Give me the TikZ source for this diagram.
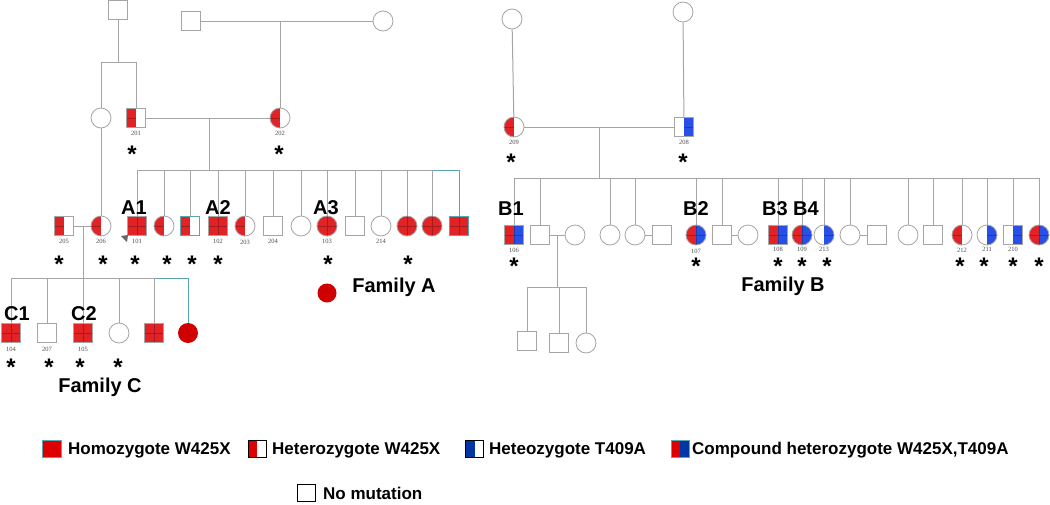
\documentclass[tikz,border=0pt]{standalone}
\usepackage{fontspec}
\setmainfont{Liberation Sans}
\newfontfamily\idfont{Liberation Serif}
\usetikzlibrary{calc}

\definecolor{pred}{RGB}{226,35,38}
\definecolor{pdeep}{RGB}{208,0,0}
\definecolor{pblue}{RGB}{40,80,230}
\definecolor{lred}{RGB}{222,0,0}
\definecolor{lblue}{RGB}{0,55,165}
\definecolor{pgray}{RGB}{165,165,165}
\definecolor{pteal}{RGB}{90,165,175}

\newcommand\lhalf[1]{\fill[#1] (path picture bounding box.south west) rectangle (path picture bounding box.north);}
\newcommand\rhalf[1]{\fill[#1] (path picture bounding box.south) rectangle (path picture bounding box.north east);}
\newcommand\llines{\draw[black, opacity=.25, line width=.3pt] (path picture bounding box.west) -- (path picture bounding box.center);}
\newcommand\rlines{\draw[black, opacity=.25, line width=.3pt] (path picture bounding box.center) -- (path picture bounding box.east);}
\newcommand\qlines{\draw[black, opacity=.25, line width=.3pt] (path picture bounding box.north) -- (path picture bounding box.south) (path picture bounding box.west) -- (path picture bounding box.east);}

\begin{document}
\begin{tikzpicture}[x=1pt, y=-1pt,
	every node/.style = {inner sep=0pt},
	pline/.style = {draw=pgray, line width=1pt},
	tline/.style = {draw=pteal, line width=1pt},
	male/.style = {rectangle, draw=pgray, line width=.8pt, minimum size=19pt, fill=white},
	female/.style = {circle, draw=pgray, line width=.8pt, minimum size=20pt, fill=white},
	homo/.style = {fill=pred, path picture={\qlines}},
	hetw/.style = {path picture={\lhalf{pred}\llines}},
	hett/.style = {path picture={\rhalf{pblue}\rlines}},
	comp/.style = {path picture={\lhalf{pred}\rhalf{pblue}\qlines}},
	pid/.style = {font=\idfont\fontsize{6.5}{7}\selectfont, text=black!70},
	lab/.style = {font=\bfseries\fontsize{20}{20}\selectfont, anchor=base},
	fam/.style = {font=\bfseries\fontsize{20}{20}\selectfont, anchor=base},
	aster/.style = {font=\bfseries\fontsize{24}{24}\selectfont, text height=17.8pt, text depth=-9.6pt, yshift=-4pt},
	legtext/.style = {font=\bfseries\fontsize{17}{17}\selectfont, anchor=base west},
	legbox/.style = {rectangle, draw=black, line width=.6pt, minimum width=18pt, minimum height=17pt}
	]
	\useasboundingbox (0,0) rectangle (1050,504);

	\node[male] (gA0) at (118,10) {};
	\node[male] (gA1) at (191,21) {};
	\node[female] (gA2) at (383,21) {};
	\node[female] (m0) at (101,118) {};
	\node[male, hetw] (n201) at (136,118) {};
	\node[female, hetw] (n202) at (280,118) {};

	\node[male, hetw] (n205) at (64,226) {};
	\node[female, hetw] (n206) at (101,226) {};
	\node[male, homo] (n101) at (137,226) {};
	\node[female, hetw] (a164) at (164,226) {};
	\node[male, hetw, draw=pteal] (a190) at (190,226) {};
	\node[male, homo] (n102) at (218,226) {};
	\node[female, hetw] (n203) at (245,226) {};
	\node[male] (n204) at (273,226) {};
	\node[female] (a301) at (301,226) {};
	\node[female, homo] (n103) at (327,226) {};
	\node[male] (a355) at (355,226) {};
	\node[female] (n214) at (381,226) {};
	\node[female, homo] (a407) at (407,226) {};
	\node[female, homo] (a432) at (432,226) {};
	\node[male, homo, draw=pteal] (a459) at (459,226) {};

	\node[male, homo] (n104) at (11,333) {};
	\node[male] (n207) at (47,333) {};
	\node[male, homo] (n105) at (83,333) {};
	\node[female] (c119) at (119,333) {};
	\node[male, homo] (c154) at (154,333) {};
	\node[female, fill=pdeep, draw=none] (c188) at (188,333) {};

	\coordinate (splitA) at (118,62);
	\coordinate (sibA) at (209,170);
	\coordinate (sibC) at (83,278);
	\draw[pline] (gA0) -- (gA0 |- splitA) (m0 |- splitA) -- (n201 |- splitA);
	\draw[pline] (m0 |- splitA) -- (m0);
	\draw[pline] (n201 |- splitA) -- (n201);
	\draw[pline] (gA1) -- (gA2);
	\draw[pline] (n202 |- gA1) -- (n202);
	\draw[pline] (n201) -- (n202);
	\draw[pline] (m0) -- (n206);
	\draw[pline] (sibA |- n201) -- (sibA);
	\draw[pline] (n101 |- sibA) -- (a432 |- sibA);
	\draw[tline] (a432 |- sibA) -| (a459);
	\foreach \k in {n101,a164,a190,n102,n203,n204,a301,n103,a355,n214,a407,a432}
		\draw[pline] (\k |- sibA) -- (\k);
	\draw[pline] (n205) -- (n206);
	\draw[pline] (sibC |- n205) -- (sibC);
	\draw[pline] (n104 |- sibC) -- (c154 |- sibC);
	\draw[tline] (c154 |- sibC) -| (c188);
	\foreach \k in {n104,n207,n105,c119,c154}
		\draw[pline] (\k |- sibC) -- (\k);

	\fill[black!60] (121,236) -- (128,235) -- (127,242) -- cycle;

	\node[pid] (l201) at (136,133) {201};
	\node[pid] (l202) at (280,133) {202};
	\node[pid] (l205) at (64,241) {205};
	\node[pid] (l206) at (101,241) {206};
	\node[pid] (l101) at (137,241) {101};
	\node[pid] (l102) at (218,241) {102};
	\node[pid] (l203) at (245,242) {203};
	\node[pid] (l204) at (273,241) {204};
	\node[pid] (l103) at (327,241) {103};
	\node[pid] (l214) at (381,241) {214};
	\node[pid] (l104) at (11,349) {104};
	\node[pid] (l207) at (47,349) {207};
	\node[pid] (l105) at (83,349) {105};

	\node[lab] (tA1) at (134,214) {A1};
	\node[lab] (tA2) at (218,214) {A2};
	\node[lab] (tA3) at (326,214) {A3};
	\node[lab] (tC1) at (17,320) {C1};
	\node[lab] (tC2) at (84,320) {C2};

	\node[aster] (sa201) at (132,150) {*};
	\node[aster] (sa202) at (279,150) {*};
	\foreach \x [count=\i] in {59,103,135,167,192,218,328,408}
		\node[aster] (sa\i) at (\x,260) {*};
	\foreach \x [count=\i] in {11,49,80,118}
		\node[aster] (sc\i) at (\x,363) {*};

	\node[circle, fill=pdeep, minimum size=19pt] (dotA) at (327,293) {};
	\node[fam] (famA) at (394,292) {Family A};
	\node[fam] (famC) at (100,392) {Family C};

	\node[female] (tB1) at (512,19) {};
	\node[female] (tB2) at (683,12) {};
	\node[female, hetw] (n209) at (514,127) {};
	\node[male, hett] (n208) at (684,127) {};

	\node[male, comp] (n106) at (514,235) {};
	\node[male] (b540) at (540,235) {};
	\node[female] (b575) at (575,235) {};
	\node[female] (b610) at (610,235) {};
	\node[female] (b635) at (635,235) {};
	\node[male] (b662) at (662,235) {};
	\node[female, comp] (n107) at (696,235) {};
	\node[male] (b722) at (722,235) {};
	\node[female] (b748) at (748,235) {};
	\node[male, comp] (n108) at (778,235) {};
	\node[female, comp] (n109) at (802,235) {};
	\node[female, hett] (n213) at (824,235) {};
	\node[female] (b850) at (850,235) {};
	\node[male] (b877) at (877,235) {};
	\node[female] (b908) at (908,235) {};
	\node[male] (b933) at (933,235) {};
	\node[female, hetw] (n212) at (962,235) {};
	\node[female, hett] (n211) at (987,235) {};
	\node[male, hett] (n210) at (1013,235) {};
	\node[female, comp] (b1039) at (1039,235) {};

	\node[male] (g527) at (527,341) {};
	\node[male] (g559) at (559,343) {};
	\node[female] (g586) at (586,343) {};

	\coordinate (sibB) at (599,178);
	\coordinate (sibG) at (557,287);
	\draw[pline] (tB1) -- (n209);
	\draw[pline] (tB2) -- (n208);
	\draw[pline] (n209) -- (n208);
	\draw[pline] (sibB |- n209) -- (sibB);
	\draw[pline] (n106 |- sibB) -- (b1039 |- sibB);
	\foreach \k in {n106,b540,b610,b635,n107,b722,n108,n109,n213,b850,b908,b933,n212,n211,n210,b1039}
		\draw[pline] (\k |- sibB) -- (\k);
	\draw[pline] (b540) -- (b575);
	\draw[pline] (b635) -- (b662);
	\draw[pline] (b722) -- (b748);
	\draw[pline] (b850) -- (b877);
	\draw[pline] (sibG |- b540) -- (sibG);
	\draw[pline] (g527 |- sibG) -- (g586 |- sibG);
	\foreach \k in {g527,g559,g586}
		\draw[pline] (\k |- sibG) -- (\k);

	\node[pid] (l209) at (514,142) {209};
	\node[pid] (l208) at (684,142) {208};
	\node[pid] (l106) at (514,250) {106};
	\node[pid] (l107) at (696,251) {107};
	\node[pid] (l108) at (778,249) {108};
	\node[pid] (l109) at (802,249) {109};
	\node[pid] (l213) at (824,249) {213};
	\node[pid] (l212) at (962,250) {212};
	\node[pid] (l211) at (987,249) {211};
	\node[pid] (l210) at (1013,249) {210};

	\node[lab] (tB1l) at (511,215) {B1};
	\node[lab] (tB2l) at (696,215) {B2};
	\node[lab] (tB3l) at (775,215) {B3};
	\node[lab] (tB4l) at (806,215) {B4};

	\node[aster] (sb209) at (511,158) {*};
	\node[aster] (sb208) at (683,158) {*};
	\foreach \x [count=\i] in {514,696,778,802,827,960,984,1013,1039}
		\node[aster] (sb\i) at (\x,262) {*};

	\node[fam] (famB) at (783,291) {Family B};

	\node[legbox, fill=lred, draw=pteal, minimum width=19pt] (k1) at (51.5,448.5) {};
	\node[legtext] (t1) at (68,454) {Homozygote W425X};
	\node[legbox, path picture={\lhalf{lred}}] (k2) at (257,448.5) {};
	\node[legtext] (t2) at (272,454) {Heterozygote W425X};
	\node[legbox, path picture={\lhalf{lblue}}] (k3) at (474.5,448.5) {};
	\node[legtext] (t3) at (489,454) {Heteozygote T409A};
	\node[legbox, draw=pteal, path picture={\lhalf{lred}\rhalf{lblue}}] (k4) at (680,448.5) {};
	\node[legtext] (t4) at (692,454) {Compound heterozygote W425X,T409A};
	\node[legbox] (k5) at (306.5,493) {};
	\node[legtext] (t5) at (323,499) {No mutation};
\end{tikzpicture}
\end{document}
